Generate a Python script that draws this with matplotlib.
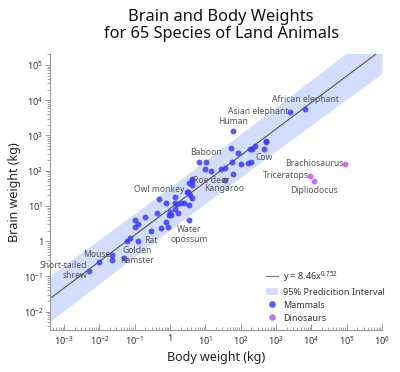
import numpy as np
import matplotlib
matplotlib.use("Agg")
import matplotlib.pyplot as plt
from matplotlib.lines import Line2D
from matplotlib.patches import Patch

plt.rcParams['font.family'] = ['Noto Sans', 'DejaVu Sans']
plt.rcParams['mathtext.fontset'] = 'custom'
plt.rcParams['mathtext.rm'] = 'Noto Sans'
plt.rcParams['mathtext.it'] = 'Noto Sans'

# Mammals: body weight (kg), brain weight
mammal_names = ["Arctic fox", "Owl monkey", "Mountain beaver", "Cow", "Grey wolf", "Goat",
    "Roe deer", "Guinea pig", "Verbet", "Chinchilla", "Ground squirrel",
    "Arctic ground squirrel", "African giant pouched rat", "Short-tailed shrew",
    "Star-nosed mole", "Nine-banded armadillo", "Tree hyrax", "N.A. opossum",
    "Asian elephant", "Big brown bat", "Donkey", "Horse", "European hedgehog",
    "Patas monkey", "Cat", "Galago", "Genet", "Giraffe", "Gorilla", "Grey seal",
    "Rock hyrax-a", "Human", "African elephant", "Water opossum", "Rhesus monkey",
    "Kangaroo", "Yellow-bellied marmot", "Golden hamster", "Mouse",
    "Little brown bat", "Slow loris", "Okapi", "Rabbit", "Sheep", "Jaguar",
    "Chimpanzee", "Baboon", "Desert hedgehog", "Giant armadillo", "Rock hyrax-b",
    "Raccoon", "Rat", "E. American mole", "Mole rat", "Musk shrew", "Pig",
    "Echidna", "Brazilian tapir", "Tenrec", "Phalanger", "Tree shrew", "Red fox"]
mammal_body = [3.385, 0.48, 1.35, 465, 36.33, 27.66, 14.83, 1.04, 4.19, 0.425, 0.101,
    0.92, 1, 0.005, 0.06, 3.5, 2, 1.7, 2547, 0.023, 187.1, 521, 0.785, 10, 3.3,
    0.2, 1.41, 529, 207, 85, 0.75, 62, 6654, 3.5, 6.8, 35, 4.05, 0.12, 0.023,
    0.01, 1.4, 250, 2.5, 55.5, 100, 52.16, 10.55, 0.55, 60, 3.6, 4.288, 0.28,
    0.075, 0.122, 0.048, 192, 3, 160, 0.9, 1.62, 0.104, 4.235]
mammal_brain = [44.5, 15.5, 8.1, 423, 119.5, 115, 98.2, 5.5, 58, 6.4, 4, 5.7, 6.6,
    0.14, 1, 10.8, 12.3, 6.3, 4603, 0.3, 419, 655, 3.5, 115, 25.6, 5, 17.5, 680,
    406, 325, 12.3, 1320, 5712, 3.9, 179, 56, 17, 1, 0.4, 0.25, 12.5, 490, 12.1,
    175, 157, 440, 179.5, 2.4, 81, 21, 39.2, 1.9, 1.2, 3, 0.33, 180, 25, 169,
    2.6, 11.4, 2.5, 50.4]

dino_names = ["Brachiosaurus", "Triceratops", "Dipliodocus"]
dino_body = [87000, 9400, 11700]
dino_brain = [154.5, 70, 50]

x_tick_exps = [-3, -2, -1, 0, 1, 2, 3, 4, 5, 6]
y_tick_exps = [-2, -1, 0, 1, 2, 3, 4, 5]

# labelled species and label placement
labels = {
    "African elephant": ("above", "African elephant"),
    "Asian elephant": ("left", "Asian elephant"),
    "Human": ("above", "Human"),
    "Baboon": ("above", "Baboon"),
    "Cow": ("below", "Cow"),
    "Roe deer": ("below", "Roe deer"),
    "Kangaroo": ("below", "Kangaroo"),
    "Owl monkey": ("above", "Owl monkey"),
    "Water opossum": ("below", "Water\nopossum"),
    "Rat": ("below", "Rat"),
    "Golden hamster": ("below", "Golden\nhamster"),
    "Mouse": ("left", "Mouse"),
    "Short-tailed shrew": ("left", "Short-tailed\nshrew"),
    "Brachiosaurus": ("left", "Brachiosaurus"),
    "Triceratops": ("left", "Triceratops"),
    "Dipliodocus": ("below", "Dipliodocus"),
}

mb = np.array(mammal_body, float)
mr = np.array(mammal_brain, float)
lx, ly = np.log10(mb), np.log10(mr)
slope, icpt = np.polyfit(lx, ly, 1)
n = len(lx)
resid = ly - (icpt + slope * lx)
s = np.sqrt(np.sum(resid**2) / (n - 2))
t = 2.0003
xbar = lx.mean()
sxx = np.sum((lx - xbar)**2)

fig = plt.figure(figsize=(4.0, 3.72), dpi=100)
ax = fig.add_axes([0.125, 0.1129, 0.83, 0.7419])
ax.set_xscale('log')
ax.set_yscale('log')
xlo, xhi = 10**-3.4, 1e6
ax.set_xlim(xlo, xhi)
ax.set_ylim(10**-2.52, 10**5.31)

gx = np.linspace(np.log10(xlo), np.log10(xhi), 200)
gy = icpt + slope * gx
w = t * s * np.sqrt(1 + 1/n + (gx - xbar)**2 / sxx)
ax.fill_between(10**gx, 10**(gy - w), 10**(gy + w), color='#d2ddff', lw=0, zorder=1)
ax.plot(10**gx, 10**gy, color='#555555', lw=0.8, zorder=2)

ax.scatter(mb, mr, s=18, color='#3c3cff', alpha=0.85, lw=0, zorder=3)
ax.scatter(dino_body, dino_brain, s=18, color='#c462f0', alpha=0.9, lw=0, zorder=3)

FS_ANN = 6.2
LINE_PT = 7.0
allnames = mammal_names + dino_names
allx = list(mammal_body) + dino_body
ally = list(mammal_brain) + dino_brain
for nm, (pos, txt) in labels.items():
    i = allnames.index(nm)
    xy = (allx[i], ally[i])
    kw = dict(textcoords='offset points', fontsize=FS_ANN, color='#555555', zorder=4,
              annotation_clip=False)
    parts = txt.split('\n')
    if pos == "above":
        for k, p in enumerate(parts[::-1]):
            ax.annotate(p, xy, xytext=(0, 3.5 + k * LINE_PT), ha='center', va='bottom', **kw)
    elif pos == "below":
        for k, p in enumerate(parts):
            ax.annotate(p, xy, xytext=(0, -3.5 - k * LINE_PT), ha='center', va='top', **kw)
    else:
        m = len(parts)
        for k, p in enumerate(parts):
            off = 0.5 + ((m - 1) / 2 - k) * LINE_PT
            ax.annotate(p, xy, xytext=(-1, off), ha='right', va='center', **kw)

for sp in ['top', 'right']:
    ax.spines[sp].set_visible(False)
for sp in ['left', 'bottom']:
    ax.spines[sp].set_color('#999999')
    ax.spines[sp].set_linewidth(0.8)

def fmt_exp(e):
    return '1' if e == 0 else r'$10^{%d}$' % e

def minors(lo, hi):
    out = []
    for e in range(int(np.floor(lo)), int(np.ceil(hi)) + 1):
        for m in range(2, 10):
            v = m * 10.0**e
            if 10**lo <= v <= 10**hi:
                out.append(v)
    return out

ax.set_xticks([10.0**e for e in x_tick_exps], [fmt_exp(e) for e in x_tick_exps])
ax.set_yticks([10.0**e for e in y_tick_exps], [fmt_exp(e) for e in y_tick_exps])
ax.set_xticks(minors(-3.4, 6), minor=True)
ax.set_yticks(minors(-2.52, 5.31), minor=True)
ax.xaxis.set_minor_formatter(matplotlib.ticker.NullFormatter())
ax.yaxis.set_minor_formatter(matplotlib.ticker.NullFormatter())

ax.tick_params(axis='x', which='major', direction='in', length=4, width=0.7, color='#999999',
               labelsize=6.6, labelcolor='#333333', pad=3)
ax.tick_params(axis='x', which='minor', direction='in', length=2.5, width=0.6, color='#999999')
ax.tick_params(axis='y', which='major', direction='out', length=3.5, width=0.7, color='#999999',
               labelsize=6.6, labelcolor='#333333', pad=1.5)
ax.tick_params(axis='y', which='minor', direction='out', length=2.5, width=0.6, color='#999999')

ax.set_xlabel('Body weight (kg)', fontsize=9, color='#222222', labelpad=3)
ax.set_ylabel('Brain weight (kg)', fontsize=9, color='#222222', labelpad=2)

fig.text(0.553, 0.975, 'Brain and Body Weights\nfor 65 Species of Land Animals',
         ha='center', va='top', fontsize=11.8, color='#111111', linespacing=1.1)

coef = 10**icpt
handles = [
    Line2D([0], [0], color='#777777', lw=0.8),
    Patch(facecolor='#d2ddff', edgecolor='none'),
    Line2D([0], [0], marker='o', ls='none', color='#3c3cff', alpha=0.85, markersize=4.8, markeredgewidth=0),
    Line2D([0], [0], marker='o', ls='none', color='#c462f0', alpha=0.9, markersize=4.8, markeredgewidth=0),
]
lbls = [r'y = %.2fx$^{%.3f}$' % (coef, slope), '95% Predicition Interval', 'Mammals', 'Dinosaurs']
fig.legend(handles, lbls, loc='upper left', bbox_to_anchor=(266/400, 1 - 269/372),
           frameon=False, fontsize=6.5, handlelength=1.3, handleheight=0.9, handletextpad=0.6,
           labelspacing=0.45, borderaxespad=0, borderpad=0, labelcolor='#333333')

fig.savefig('out.png', dpi=100)
